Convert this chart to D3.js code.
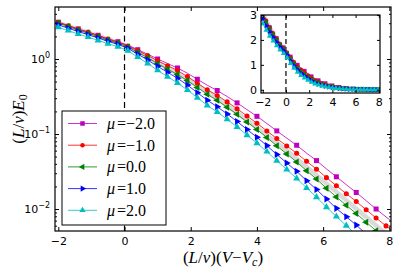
<!DOCTYPE html>
<html>
<head>
<meta charset="utf-8">
<script src="https://d3js.org/d3.v7.min.js"></script>
<style>
  body { margin: 0; background: white; }
  text { font-family: "DejaVu Sans", sans-serif; font-size: 11px; fill: black; }
  .math { font-family: "Liberation Serif", "DejaVu Serif", serif; }
  .frame { fill: none; stroke: black; stroke-width: 1.2px; }
  .tick line { stroke: black; stroke-width: 1px; }
</style>
</head>
<body>
<svg id="chart" width="399" height="275"></svg>
<script>

// x values, (L/v)(V-Vc)
var xs = [-2.0,-1.7,-1.4,-1.1,-0.8,-0.5,-0.2,0.1,0.4,0.7,1.0,1.3,1.6,1.9,2.2,2.5,2.8,3.1,3.4,3.7,
  4.0,4.3,4.6,4.9,5.2,5.5,5.8,6.1,6.4,6.7,7.0,7.3,7.6,7.9,8.2]

// (L/v)E0 for each mu
var muM2 = [3.09,2.79,2.51,2.29,2.07,1.86,1.70,1.53,1.33,1.16,1.00,0.871,0.759,0.646,0.537,0.447,0.380,0.316,0.260,0.211,
  0.172,0.138,0.110,0.0881,0.0708,0.0556,0.0442,0.0343,0.0269,0.0211,0.0166,0.0129,0.0100,0.00785,0.00617]
var muM1 = [3.09,2.78,2.50,2.28,2.05,1.84,1.67,1.49,1.29,1.11,0.944,0.815,0.702,0.583,0.476,0.389,0.327,0.268,0.217,0.174,
  0.139,0.110,0.0869,0.0693,0.0553,0.0432,0.0340,0.0262,0.0204,0.0160,0.0126,0.00977,0.00759,0.00596,0.00468]
var mu0 = [3.02,2.71,2.44,2.21,1.99,1.79,1.63,1.45,1.23,1.04,0.867,0.733,0.622,0.515,0.418,0.339,0.281,0.228,0.183,0.145,
  0.115,0.0897,0.0695,0.0543,0.0425,0.0324,0.0251,0.0189,0.0145,0.0112,0.00871,0.00668,0.00513,0.00398,0.00309]
var mu1 = [2.85,2.57,2.32,2.11,1.91,1.72,1.57,1.39,1.16,0.968,0.798,0.665,0.553,0.449,0.356,0.282,0.231,0.185,0.147,0.115,
  0.0904,0.0700,0.0533,0.0412,0.0318,0.0239,0.0182,0.0136,0.0102,0.00789,0.00610,0.00465,0.00355,0.00275,0.00214]
var mu2 = [2.65,2.39,2.15,1.96,1.77,1.60,1.46,1.29,1.06,0.871,0.706,0.581,0.480,0.386,0.305,0.240,0.196,0.157,0.124,0.0966,
  0.0755,0.0583,0.0441,0.0336,0.0256,0.0191,0.0144,0.0106,0.00794,0.0060,0.00453,0.00338,0.00252,0.00191,0.00148]

// thick gray reference curve
var grayX = [-2, -1, 0, 1, 2, 3, 4, 5, 6, 7, 8.2]
var grayY = [3.05, 2.17, 1.52, 0.90, 0.505, 0.258, 0.122, 0.0555, 0.0238, 0.0101, 0.0036]

var muLabels = ['\u22122.0', '\u22121.0', '0.0', '1.0', '2.0']
var xTicks = [-2, 0, 2, 4, 6, 8]
var yTicks = [0.01, 0.1, 1]
var insetXTicks = [-2, 0, 2, 4, 6, 8]
var insetYTicks = [0, 1, 2, 3]

var series = [
  {vals: muM2, color: '#bf00bf', shape: 'square', every: 2},
  {vals: muM1, color: '#ff0000', shape: 'circle', every: 1},
  {vals: mu0, color: '#008000', shape: 'left', every: 1},
  {vals: mu1, color: '#0000ff', shape: 'right', every: 1},
  {vals: mu2, color: '#00bfbf', shape: 'up', every: 1}
]

var svg = d3.select('#chart')

function symbolPath(shape, s) {
  if (shape === 'square') return d3.symbol(d3.symbolSquare, s * s)()
  if (shape === 'circle') return d3.symbol(d3.symbolCircle, s * s * 0.8)()
  return d3.symbol(d3.symbolTriangle, s * s * 0.85)()
}
function symbolRot(shape) {
  if (shape === 'left') return -90
  if (shape === 'right') return 90
  return 0
}

function drawSeries(g, x, y, msize) {
  g.append('path')
    .datum(grayX.map((d, i) => [d, grayY[i]]))
    .attr('d', d3.line().x(d => x(d[0])).y(d => y(d[1])).curve(d3.curveMonotoneX))
    .style('fill', 'none')
    .style('stroke', '#bbbbbb')
    .style('stroke-opacity', 0.55)
    .style('stroke-width', 4.5)

  series.forEach(s => {
    var pts = xs.map((d, i) => [d, s.vals[i]])
    g.append('path')
      .datum(pts)
      .attr('d', d3.line().x(d => x(d[0])).y(d => y(d[1])))
      .style('fill', 'none')
      .style('stroke', s.color)
      .style('stroke-opacity', 0.8)
      .style('stroke-width', 1)

    g.selectAll(null)
      .data(pts.filter((d, i) => i % s.every === 0))
      .enter()
      .append('path')
      .attr('d', symbolPath(s.shape, msize))
      .attr('transform', d => 'translate(' + x(d[0]) + ',' + y(d[1]) + ') rotate(' + symbolRot(s.shape) + ')')
      .style('fill', s.color)
  })
}

// ---------- main axes ----------
var mL = 55, mR = 391, mT = 7, mB = 231

var xScale = d3.scaleLinear().domain([-2.1, 8.05]).range([mL, mR])
var yScale = d3.scaleLog().domain([Math.pow(10, -2.293), Math.pow(10, 0.693)]).range([mB, mT])

svg.append('clipPath').attr('id', 'mainClip')
  .append('rect').attr('x', mL).attr('y', mT).attr('width', mR - mL).attr('height', mB - mT)

var plot = svg.append('g').attr('clip-path', 'url(#mainClip)')

plot.append('line')
  .attr('x1', xScale(0)).attr('x2', xScale(0))
  .attr('y1', mT).attr('y2', mB)
  .style('stroke', 'black').style('stroke-width', 1.2)
  .style('stroke-dasharray', '6,3.5')

drawSeries(plot, xScale, yScale, 5)

// ticks (inward, all four sides)
var yMinor = yScale.ticks().filter(d => Math.abs(Math.log10(d) - Math.round(Math.log10(d))) > 1e-6)

svg.append('g').attr('transform', 'translate(0,' + mB + ')')
  .call(d3.axisBottom(xScale).tickValues(xTicks).tickSize(-4).tickPadding(6)
    .tickFormat(d => d < 0 ? '\u2212' + (-d) : d))
svg.append('g').attr('transform', 'translate(0,' + mT + ')')
  .call(d3.axisTop(xScale).tickValues(xTicks).tickSize(-4).tickFormat(''))
svg.append('g').attr('transform', 'translate(' + mL + ',0)')
  .call(d3.axisLeft(yScale).tickValues(yTicks).tickSize(-4).tickFormat(''))
svg.append('g').attr('transform', 'translate(' + mL + ',0)')
  .call(d3.axisLeft(yScale).tickValues(yMinor).tickSize(-2).tickFormat(''))
svg.append('g').attr('transform', 'translate(' + mR + ',0)')
  .call(d3.axisRight(yScale).tickValues(yTicks).tickSize(-4).tickFormat(''))
svg.append('g').attr('transform', 'translate(' + mR + ',0)')
  .call(d3.axisRight(yScale).tickValues(yMinor).tickSize(-2).tickFormat(''))
svg.selectAll('.domain').remove()

yTicks.forEach(v => {
  var t = svg.append('text')
    .attr('x', mL - 5)
    .attr('y', yScale(v) + 4)
    .attr('text-anchor', 'end')
  t.append('tspan').text('10')
  t.append('tspan').attr('dy', -5).style('font-size', '8px').text(v === 1 ? '0' : '\u2212' + Math.round(-Math.log10(v)))
})

svg.append('rect').attr('class', 'frame')
  .attr('x', mL).attr('y', mT).attr('width', mR - mL).attr('height', mB - mT)

// ---------- legend ----------
var leg = svg.append('g')
leg.append('rect')
  .attr('x', 62).attr('y', 111).attr('width', 104).attr('height', 114)
  .style('fill', 'white').style('stroke', 'black').style('stroke-width', 1)

series.forEach((s, i) => {
  var ly = 123.5 + i * 21.7
  leg.append('line')
    .attr('x1', 68).attr('x2', 97).attr('y1', ly).attr('y2', ly)
    .style('stroke', s.color).style('stroke-opacity', 0.8).style('stroke-width', 1)
  leg.append('path')
    .attr('d', symbolPath(s.shape, 4.5))
    .attr('transform', 'translate(82.5,' + ly + ') rotate(' + symbolRot(s.shape) + ')')
    .style('fill', s.color)
  var t = leg.append('text').attr('class', 'math')
    .attr('x', 107).attr('y', ly + 5.5)
    .style('font-size', '16px')
  t.append('tspan').style('font-style', 'italic').text('\u03bc')
  t.append('tspan').attr('dx', 2).text('=')
  t.append('tspan').text(muLabels[i])
})

// ---------- axis labels ----------
var xl = svg.append('text').attr('class', 'math')
  .attr('x', 223).attr('y', 263).attr('text-anchor', 'middle').style('font-size', '17px')
xl.append('tspan').text('(')
xl.append('tspan').style('font-style', 'italic').text('L')
xl.append('tspan').text('/')
xl.append('tspan').style('font-style', 'italic').text('v')
xl.append('tspan').text(')(')
xl.append('tspan').style('font-style', 'italic').text('V')
xl.append('tspan').text('\u2212')
xl.append('tspan').style('font-style', 'italic').text('V')
xl.append('tspan').style('font-style', 'italic').style('font-size', '12px').attr('dy', 3).text('c')
xl.append('tspan').attr('dy', -3).text(')')

var yl = svg.append('text').attr('class', 'math')
  .attr('transform', 'translate(24,119) rotate(-90)')
  .attr('text-anchor', 'middle').style('font-size', '17px')
yl.append('tspan').text('(')
yl.append('tspan').style('font-style', 'italic').text('L')
yl.append('tspan').text('/')
yl.append('tspan').style('font-style', 'italic').text('v')
yl.append('tspan').text(')')
yl.append('tspan').style('font-style', 'italic').text('E')
yl.append('tspan').style('font-size', '12px').attr('dy', 3).text('0')

// ---------- inset ----------
var iL = 261, iR = 380, iT = 15, iB = 93
var ixScale = d3.scaleLinear().domain([-2.15, 8.1]).range([iL, iR])
var iyScale = d3.scaleLinear().domain([-0.13, 3.0]).range([iB, iT])

svg.append('rect').attr('x', iL).attr('y', iT).attr('width', iR - iL).attr('height', iB - iT)
  .style('fill', 'white')

svg.append('clipPath').attr('id', 'insetClip')
  .append('rect').attr('x', iL).attr('y', iT).attr('width', iR - iL).attr('height', iB - iT)
var inset = svg.append('g').attr('clip-path', 'url(#insetClip)')

inset.append('line')
  .attr('x1', ixScale(0)).attr('x2', ixScale(0))
  .attr('y1', iT).attr('y2', iB)
  .style('stroke', 'black').style('stroke-width', 1.2)
  .style('stroke-dasharray', '5,3')

drawSeries(inset, ixScale, iyScale, 4)

svg.append('g').attr('transform', 'translate(0,' + iB + ')')
  .call(d3.axisBottom(ixScale).tickValues(insetXTicks).tickSize(-3).tickPadding(5)
    .tickFormat(d => d < 0 ? '\u2212' + (-d) : d))
svg.append('g').attr('transform', 'translate(0,' + iT + ')')
  .call(d3.axisTop(ixScale).tickValues(insetXTicks).tickSize(-3).tickFormat(''))
svg.append('g').attr('transform', 'translate(' + iL + ',0)')
  .call(d3.axisLeft(iyScale).tickValues(insetYTicks).tickSize(-3).tickPadding(4).tickFormat(d3.format('d')))
svg.append('g').attr('transform', 'translate(' + iR + ',0)')
  .call(d3.axisRight(iyScale).tickValues(insetYTicks).tickSize(-3).tickFormat(''))
svg.selectAll('.domain').remove()

svg.append('rect').attr('class', 'frame')
  .attr('x', iL).attr('y', iT).attr('width', iR - iL).attr('height', iB - iT)

svg.selectAll('.tick text').style('font-family', '"DejaVu Sans", sans-serif').style('font-size', '11px')

</script>
</body>
</html>
